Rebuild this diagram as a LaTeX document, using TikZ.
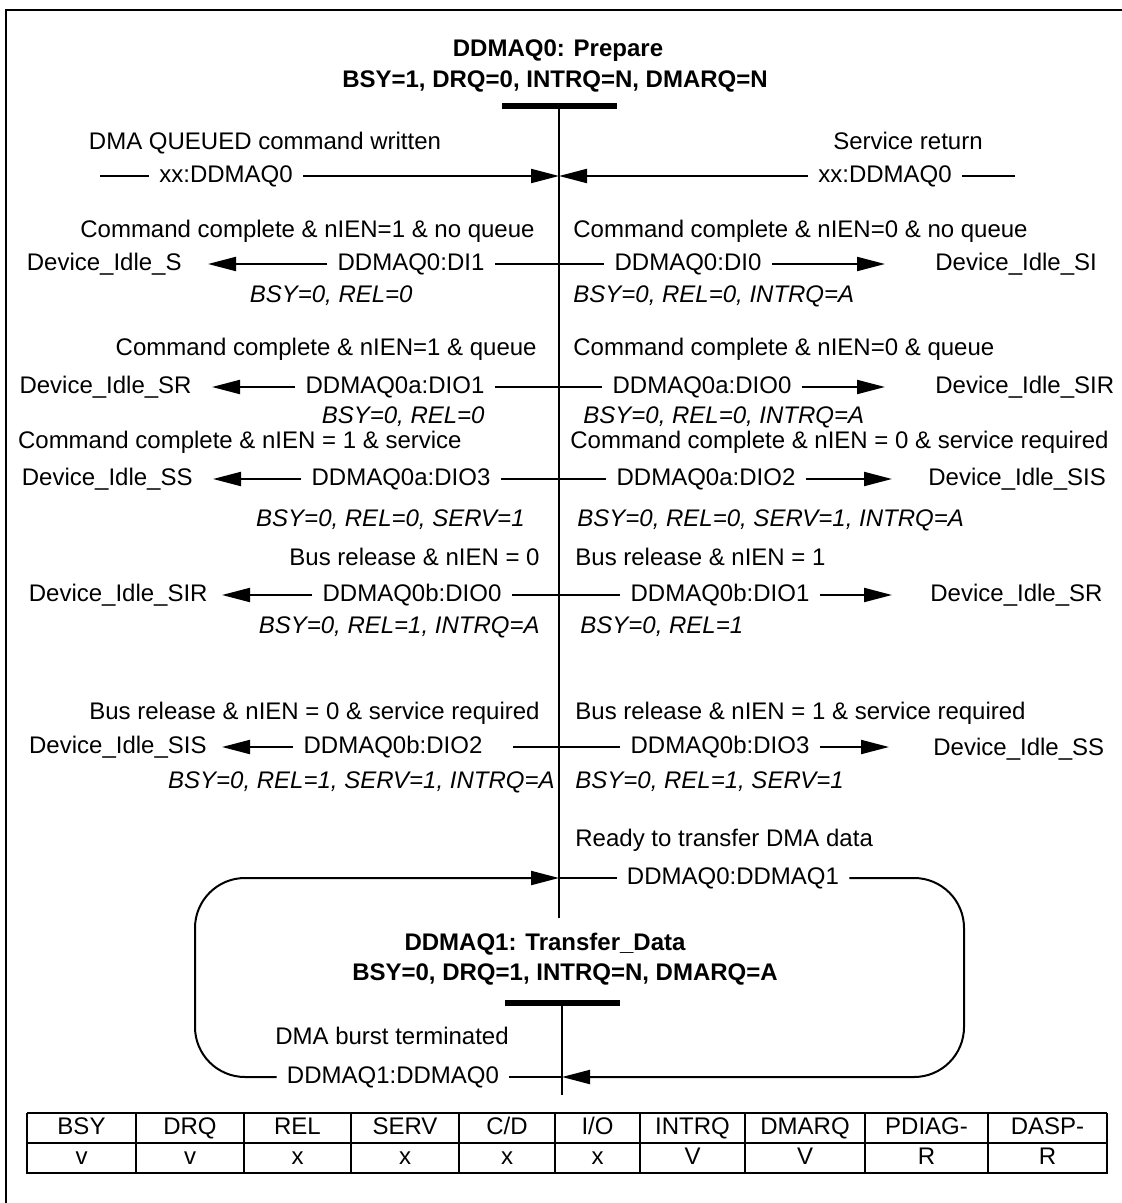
\documentclass[tikz,border=0pt]{standalone}
\usepackage{fontspec}
\setmainfont{Liberation Sans}
\usetikzlibrary{arrows.meta}
\newcommand{\dsz}{\fontsize{12}{14}\selectfont}
\begin{document}
\begin{tikzpicture}[x=0.5pt,y=-0.5pt,>={Triangle[length=14pt,width=7pt]},
 txt/.style={font=\dsz,inner sep=0pt,text height=8.6pt,text depth=2.5pt},
 lab/.style={txt,inner xsep=5pt},
 att/.style={txt,font=\dsz\itshape},
 ttl/.style={txt,font=\dsz\bfseries},
 tr/.style={line width=1pt},
 st/.style={line width=1pt},
 bar/.style={fill=black,inner sep=0pt,minimum width=57.5pt,minimum height=3pt},
 tol/.style={tr,->,shorten >=#1},
 tor/.style={tr,->,shorten >=#1}]
\useasboundingbox (0,0) rectangle (1122,1203);
\draw[line width=1.3pt] (6,1203) -- (6,10) -- (1122,10);

\node[ttl] (t0a) at (558,50) {DDMAQ0: Prepare};
\node[ttl] (t0b) at (555,81) {BSY=1, DRQ=0, INTRQ=N, DMARQ=N};
\node[bar] (s0) at (559,106) {};
\coordinate (e0) at (559,918);
\draw[st] (s0.center) -- (e0);

\node[txt] (c0l) at (265,143) {DMA QUEUED command written};
\node[txt] (c0r) at (908,143) {Service return};
\coordinate (a0l) at (100,176);
\coordinate (a0r) at (1015,176);
\coordinate (p0) at (559,176);
\node[lab] (xxl) at (226,176) {xx:DDMAQ0};
\node[lab] (xxr) at (885,176) {xx:DDMAQ0};
\draw[tr] (a0l) -- (xxl);
\draw[tr,->] (xxl) -- (p0);
\draw[tr] (a0r) -- (xxr);
\draw[tr,->] (xxr) -- (p0);

\node[txt,anchor=east] (c1l) at (535,231) {Command complete \& nIEN=1 \& no queue};
\node[txt,anchor=west] (c1r) at (573,231) {Command complete \& nIEN=0 \& no queue};
\node[txt,anchor=east] (i1l) at (182,264) {Device\_Idle\_S};
\node[lab] (d1l) at (411,264) {DDMAQ0:DI1};
\node[lab] (d1r) at (688,264) {DDMAQ0:DI0};
\node[txt,anchor=west] (i1r) at (935,264) {Device\_Idle\_SI};
\node[att,anchor=east] (a1l) at (413,296) {BSY=0, REL=0};
\node[att,anchor=west] (a1r) at (573,296) {BSY=0, REL=0, INTRQ=A};
\draw[tr] (d1l) -- (d1r);
\draw[tol=13pt] (d1l) -- (i1l);
\draw[tor=25pt] (d1r) -- (i1r);

\node[txt,anchor=east] (c2l) at (537,349) {Command complete \& nIEN=1 \& queue};
\node[txt,anchor=west] (c2r) at (573,349) {Command complete \& nIEN=0 \& queue};
\node[txt,anchor=east] (i2l) at (192,387) {Device\_Idle\_SR};
\node[lab] (d2l) at (395,387) {DDMAQ0a:DIO1};
\node[lab] (d2r) at (702,387) {DDMAQ0a:DIO0};
\node[txt,anchor=west] (i2r) at (935,387) {Device\_Idle\_SIR};
\node[att,anchor=east] (a2l) at (485,417) {BSY=0, REL=0};
\node[att,anchor=west] (a2r) at (583,417) {BSY=0, REL=0, INTRQ=A};
\draw[tr] (d2l) -- (d2r);
\draw[tol=10pt] (d2l) -- (i2l);
\draw[tor=25pt] (d2r) -- (i2r);

\node[txt,anchor=east] (c3l) at (462,442) {Command complete \& nIEN = 1 \& service};
\node[txt,anchor=west] (c3r) at (570,442) {Command complete \& nIEN = 0 \& service required};
\node[txt,anchor=east] (i3l) at (193,479) {Device\_Idle\_SS};
\node[lab] (d3l) at (401,479) {DDMAQ0a:DIO3};
\node[lab] (d3r) at (706,479) {DDMAQ0a:DIO2};
\node[txt,anchor=west] (i3r) at (928,479) {Device\_Idle\_SIS};
\node[att,anchor=east] (a3l) at (525,520) {BSY=0, REL=0, SERV=1};
\node[att,anchor=west] (a3r) at (577,520) {BSY=0, REL=0, SERV=1, INTRQ=A};
\draw[tr] (d3l) -- (d3r);
\draw[tol=10pt] (d3l) -- (i3l);
\draw[tor=18pt] (d3r) -- (i3r);

\node[txt,anchor=east] (c4l) at (540,559) {Bus release \& nIEN = 0};
\node[txt,anchor=west] (c4r) at (575,559) {Bus release \& nIEN = 1};
\node[txt,anchor=east] (i4l) at (208,595) {Device\_Idle\_SIR};
\node[lab] (d4l) at (412,595) {DDMAQ0b:DIO0};
\node[lab] (d4r) at (720,595) {DDMAQ0b:DIO1};
\node[txt,anchor=west] (i4r) at (930,595) {Device\_Idle\_SR};
\node[att,anchor=east] (a4l) at (540,627) {BSY=0, REL=1, INTRQ=A};
\node[att,anchor=west] (a4r) at (580,627) {BSY=0, REL=1};
\draw[tr] (d4l) -- (d4r);
\draw[tol=7pt] (d4l) -- (i4l);
\draw[tor=19pt] (d4r) -- (i4r);

\node[txt,anchor=east] (c5l) at (540,713) {Bus release \& nIEN = 0 \& service required};
\node[txt,anchor=west] (c5r) at (575,713) {Bus release \& nIEN = 1 \& service required};
\node[txt,anchor=east] (i5l) at (207,747) {Device\_Idle\_SIS};
\node[lab] (d5l) at (393,747) {DDMAQ0b:DIO2};
\node[lab] (d5r) at (720,747) {DDMAQ0b:DIO3};
\node[txt,anchor=west] (i5r) at (933,749) {Device\_Idle\_SS};
\node[att,anchor=east] (a5l) at (555,782) {BSY=0, REL=1, SERV=1, INTRQ=A};
\node[att,anchor=west] (a5r) at (575,782) {BSY=0, REL=1, SERV=1};
\draw[tr,shorten <=10pt] (d5l) -- (d5r);
\draw[tol=7.5pt] (d5l) -- (i5l);
\draw[tor=22pt] (d5r) -- (i5r.west |- d5r);

\node[txt,anchor=west] (rdy) at (575,840) {Ready to transfer DMA data};
\node[lab] (q01) at (733,878) {DDMAQ0:DDMAQ1};
\coordinate (p1) at (559,878);
\coordinate (ne) at (964,878);
\coordinate (se) at (964,1077);
\coordinate (sw) at (195,1077);
\coordinate (nw) at (195,878);
\coordinate (p2) at (562,1077);

\node[ttl] (t1a) at (545,944) {DDMAQ1: Transfer\_Data};
\node[ttl] (t1b) at (565,974) {BSY=0, DRQ=1, INTRQ=N, DMARQ=A};
\node[bar] (s1) at (562,1003) {};
\coordinate (e1) at (562,1095);
\draw[st] (s1.center) -- (e1);
\node[txt] (brst) at (392,1038) {DMA burst terminated};
\node[lab] (q10) at (393,1077) {DDMAQ1:DDMAQ0};

\draw[tr] (p1) -- (q01);
\draw[tr,->,rounded corners=25pt] (q01) -- (ne) -- (se) -- (p2);
\draw[tr] (p2) -- (q10);
\draw[tr,->,rounded corners=25pt] (q10) -- (sw) -- (nw) -- (p1);

\foreach \xa/\xb/\hd/\vl [count=\k] in {27/136/BSY/v,136/244/DRQ/v,244/351/REL/x,351/459/SERV/x,459/555/{C/D}/x,555/640/{I/O}/x,640/745/INTRQ/V,745/865/DMARQ/V,865/988/PDIAG-/R,988/1107/DASP-/R}{
 \node[txt] (h\k) at ({(\xa+\xb)/2},1128) {\hd};
 \node[txt] (v\k) at ({(\xa+\xb)/2},1158) {\vl};
 \draw[line width=0.8pt] (\xb,1113) -- (\xb,1173);
}
\draw[line width=0.65pt] (27,1113) -- (1107,1113) (27,1143) -- (1107,1143);
\draw[line width=1.35pt] (27,1113) -- (27,1173) -- (1107,1173) -- (1107,1113);
\end{tikzpicture}
\end{document}
